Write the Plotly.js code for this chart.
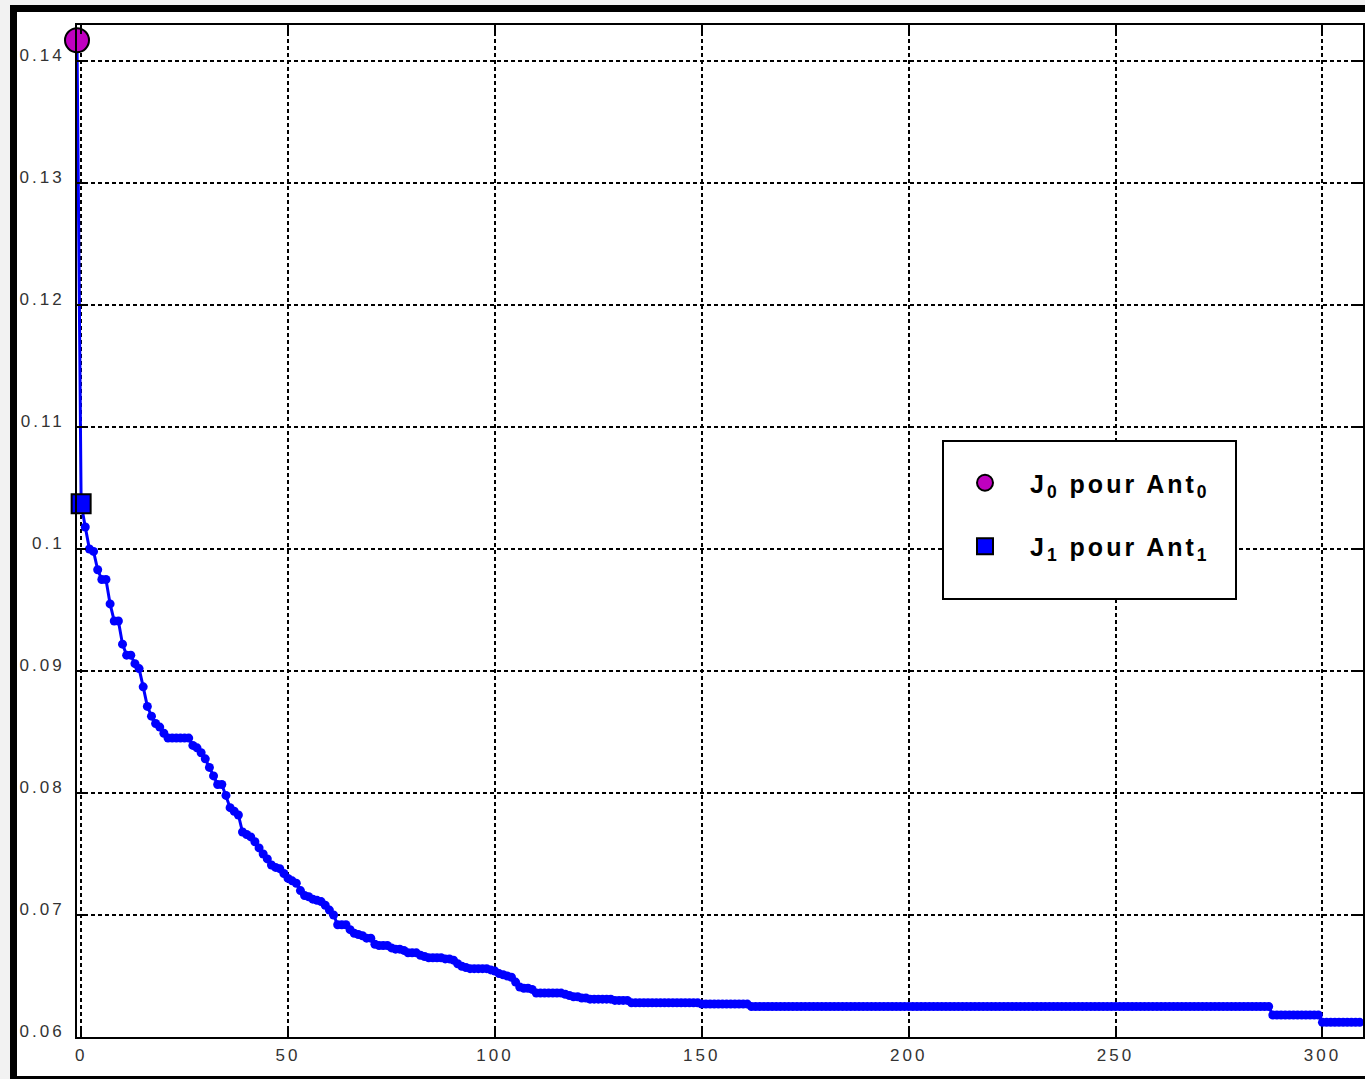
<!DOCTYPE html>
<html>
<head>
<meta charset="utf-8">
<script src="https://cdn.plot.ly/plotly-3.0.1.min.js"></script>
<style>
  html, body { margin: 0; padding: 0; }
  body { background: #f2f2f2; width: 1365px; height: 1079px; overflow: hidden; position: relative; }
  #frame { position: absolute; left: 10px; top: 5px; width: 1362px; height: 1078px;
           border: 7px solid #000; box-sizing: border-box; background: #fff; }
  #chart { width: 1348px; height: 1064px; }
  .xtick text, .ytick text { letter-spacing: 3px; }
  .legendtext { letter-spacing: 3px; }
</style>
</head>
<body>
<div id="frame"><div id="chart"></div></div>
<script>
// Cost J per iteration; first value is J0, second J1
const cost = [
  0.1417, 0.1037, 0.1018, 0.1000, 0.0998, 0.0983, 0.0975, 0.0975, 0.0955, 0.0941,
  0.0941, 0.0922, 0.0913, 0.0913, 0.0906, 0.0902, 0.0887, 0.0871, 0.0863, 0.0857,
  0.0854, 0.0849, 0.0845, 0.0845, 0.0845, 0.0845, 0.0845, 0.0845, 0.0839, 0.0837,
  0.0833, 0.0828, 0.0821, 0.0814, 0.0807, 0.0807, 0.0798, 0.0788, 0.0785, 0.0782,
  0.0768, 0.0766, 0.0764, 0.0760, 0.0755, 0.0750, 0.0746, 0.0741, 0.0739, 0.0738,
  0.0734, 0.0730, 0.0728, 0.0726, 0.0720, 0.0716, 0.0715, 0.0713, 0.0712, 0.0711,
  0.0708, 0.0704, 0.0700, 0.0692, 0.0692, 0.0692, 0.0688, 0.0685, 0.0684, 0.0683,
  0.0681, 0.0681, 0.0676, 0.0675, 0.0675, 0.0675, 0.0673, 0.0672, 0.0672, 0.0671,
  0.0669, 0.0669, 0.0669, 0.0667, 0.0666, 0.0665, 0.0665, 0.0665, 0.0665, 0.0664,
  0.0664, 0.0663, 0.0660, 0.0658, 0.0657, 0.0656, 0.0656, 0.0656, 0.0656, 0.0656,
  0.0655, 0.0654, 0.0652, 0.0651, 0.0650, 0.0649, 0.0645, 0.0641, 0.0640, 0.0640,
  0.0639, 0.0636, 0.0636, 0.0636, 0.0636, 0.0636, 0.0636, 0.0636, 0.0635, 0.0634,
  0.0633, 0.0633, 0.0632, 0.0632, 0.0631, 0.0631, 0.0631, 0.0631, 0.0631, 0.0631,
  0.0630, 0.0630, 0.0630, 0.0630, 0.0628, 0.0628, 0.0628, 0.0628, 0.0628, 0.0628,
  0.0628, 0.0628, 0.0628, 0.0628, 0.0628, 0.0628, 0.0628, 0.0628, 0.0628, 0.0628,
  0.0628, 0.0627, 0.0627, 0.0627, 0.0627, 0.0627, 0.0627, 0.0627, 0.0627, 0.0627,
  0.0627, 0.0627, 0.0627, 0.0625, 0.0625, 0.0625, 0.0625, 0.0625, 0.0625, 0.0625,
  0.0625, 0.0625, 0.0625, 0.0625, 0.0625, 0.0625, 0.0625, 0.0625, 0.0625, 0.0625,
  0.0625, 0.0625, 0.0625, 0.0625, 0.0625, 0.0625, 0.0625, 0.0625, 0.0625, 0.0625,
  0.0625, 0.0625, 0.0625, 0.0625, 0.0625, 0.0625, 0.0625, 0.0625, 0.0625, 0.0625,
  0.0625, 0.0625, 0.0625, 0.0625, 0.0625, 0.0625, 0.0625, 0.0625, 0.0625, 0.0625,
  0.0625, 0.0625, 0.0625, 0.0625, 0.0625, 0.0625, 0.0625, 0.0625, 0.0625, 0.0625,
  0.0625, 0.0625, 0.0625, 0.0625, 0.0625, 0.0625, 0.0625, 0.0625, 0.0625, 0.0625,
  0.0625, 0.0625, 0.0625, 0.0625, 0.0625, 0.0625, 0.0625, 0.0625, 0.0625, 0.0625,
  0.0625, 0.0625, 0.0625, 0.0625, 0.0625, 0.0625, 0.0625, 0.0625, 0.0625, 0.0625,
  0.0625, 0.0625, 0.0625, 0.0625, 0.0625, 0.0625, 0.0625, 0.0625, 0.0625, 0.0625,
  0.0625, 0.0625, 0.0625, 0.0625, 0.0625, 0.0625, 0.0625, 0.0625, 0.0625, 0.0625,
  0.0625, 0.0625, 0.0625, 0.0625, 0.0625, 0.0625, 0.0625, 0.0625, 0.0625, 0.0625,
  0.0625, 0.0625, 0.0625, 0.0625, 0.0625, 0.0625, 0.0625, 0.0625, 0.0625, 0.0618,
  0.0618, 0.0618, 0.0618, 0.0618, 0.0618, 0.0618, 0.0618, 0.0618, 0.0618, 0.0618,
  0.0618, 0.0612, 0.0612, 0.0612, 0.0612, 0.0612, 0.0612, 0.0612, 0.0612, 0.0612,
  0.0612
];
// x position of each point (J0 sits on the left edge, just before 0)
const iterations = cost.map((_, i) => i - 1);

// Highlighted points
const j0Iter = [-1];
const j0Cost = [0.1417];
const j1Iter = [0];
const j1Cost = [0.1037];

const legendNames = ['J<sub>0</sub> pour Ant<sub>0</sub>', 'J<sub>1</sub> pour Ant<sub>1</sub>'];

const xTickVals = [0, 50, 100, 150, 200, 250, 300];
const xTickText = ['0', '50', '100', '150', '200', '250', '300'];
const yTickVals = [0.06, 0.07, 0.08, 0.09, 0.10, 0.11, 0.12, 0.13, 0.14];
const yTickText = ['0.06', '0.07', '0.08', '0.09', '0.1', '0.11', '0.12', '0.13', '0.14'];

const tickFont = { family: '"Liberation Sans", Arial, sans-serif', size: 17, color: '#333333' };

const traces = [
  {
    x: iterations, y: cost, type: 'scatter', mode: 'lines+markers',
    line: { color: '#0000ff', width: 3 },
    marker: { color: '#0000ff', size: 9, symbol: 'circle' },
    showlegend: false, cliponaxis: false, hoverinfo: 'x+y'
  },
  {
    x: j0Iter, y: j0Cost, type: 'scatter', mode: 'markers', name: legendNames[0],
    legendgroup: 'g0',
    marker: { color: '#c000c0', size: 24, symbol: 'circle', line: { color: '#000000', width: 2 } },
    cliponaxis: false
  },
  {
    x: j1Iter, y: j1Cost, type: 'scatter', mode: 'markers', name: legendNames[1],
    legendgroup: 'g1',
    marker: { color: '#0000ff', size: 19, symbol: 'square', line: { color: '#000000', width: 2 } },
    cliponaxis: false
  }
];

const plotL = 77, plotT = 25, plotW = 1286, plotH = 1012;
function px2paperX(px) { return (px - plotL) / plotW; }
function px2paperY(py) { return (plotT + plotH - py) / plotH; }

const layout = {
  width: 1348, height: 1064,
  margin: { l: 60, r: 2, t: 13, b: 39, pad: 0 },
  paper_bgcolor: '#ffffff', plot_bgcolor: '#ffffff',
  showlegend: true,
  xaxis: {
    range: [-1, 309.8], tickvals: xTickVals, ticktext: xTickText,
    showgrid: true, gridcolor: '#000000', gridwidth: 1.5, griddash: '4px,3px',
    zeroline: false, showline: true, linecolor: '#000000', linewidth: 2, mirror: 'ticks',
    ticks: 'inside', ticklen: 9, tickwidth: 1.5, tickcolor: '#000000',
    tickfont: tickFont, ticklabelstandoff: 2
  },
  yaxis: {
    range: [0.06, 0.14295], tickvals: yTickVals, ticktext: yTickText,
    showgrid: true, gridcolor: '#000000', gridwidth: 1.5, griddash: '4px,3px',
    zeroline: false, showline: true, linecolor: '#000000', linewidth: 2, mirror: 'ticks',
    ticks: 'inside', ticklen: 9, tickwidth: 1.5, tickcolor: '#000000',
    tickfont: tickFont, ticklabelstandoff: 7, ticklabelshift: -6
  },
  shapes: [
    {
      type: 'rect', xref: 'paper', yref: 'paper', layer: 'above',
      x0: px2paperX(943), x1: px2paperX(1236), y0: px2paperY(599), y1: px2paperY(441),
      fillcolor: '#ffffff', line: { color: '#000000', width: 2 }
    }
  ],
  legend: {
    x: px2paperX(940), y: px2paperY(460), xanchor: 'left', yanchor: 'top',
    bgcolor: 'rgba(0,0,0,0)', borderwidth: 0,
    traceorder: 'grouped', tracegroupgap: 28,
    font: { family: '"Liberation Sans", Arial, sans-serif', size: 25, color: '#000000', weight: 'bold' },
    itemwidth: 80
  }
};

Plotly.newPlot('chart', traces, layout, { displayModeBar: false });
</script>
</body>
</html>
